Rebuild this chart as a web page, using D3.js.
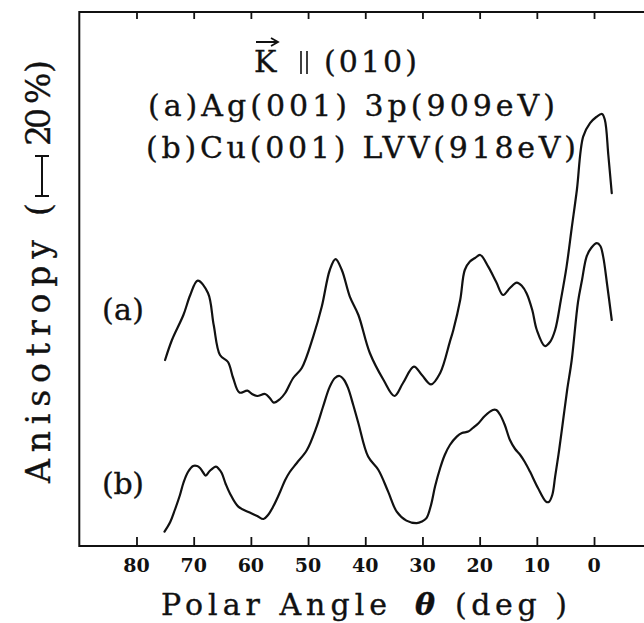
<!DOCTYPE html>
<html>
<head>
<meta charset="utf-8">
<script src="https://cdn.jsdelivr.net/npm/d3@7"></script>
<style>
  html, body { margin: 0; padding: 0; background: #fff; }
  svg { display: block; }
  text { font-family: "DejaVu Serif", "Liberation Serif", serif; fill: #111; }
</style>
</head>
<body>
<svg id="chart" width="644" height="623"></svg>
<script>
// ---- data ----
const xTicks = [80, 70, 60, 50, 40, 30, 20, 10, 0];

// (a) Ag(001) 3p (909 eV): polar angle (deg) and anisotropy (%, offset)
const thetaA = [75.0, 73.8, 71.8, 70.6, 69.3, 67.5, 66.5, 65.4, 64.0, 63.1, 62.0, 60.6, 59.8, 58.9, 57.5, 56.7, 56.0, 54.9, 54.0, 52.6, 51.1, 49.1, 47.6, 46.2, 45.2, 44.1, 42.7, 41.2, 39.2, 36.8, 34.9, 33.4, 31.5, 30.1, 28.5, 26.9, 25.2, 24.6, 23.4, 22.6, 21.7, 20.8, 19.9, 18.5, 17.1, 15.9, 14.7, 13.5, 12.6, 11.8, 10.8, 10.0, 8.6, 7.7, 6.8, 5.8, 4.8, 3.9, 3.0, 1.9, 0.7, -0.4, -1.4, -1.9, -2.5, -3.1];
const valA = [93, 103, 115.5, 125.5, 132.7, 126.5, 110.5, 95.5, 92, 84, 76.7, 77.7, 76, 75, 76, 74, 71.7, 73.5, 76.5, 84, 89, 104.7, 119.7, 138, 143.4, 138, 124.7, 115.5, 96.5, 83, 75, 81.5, 89.7, 85.5, 80.8, 86.5, 102.2, 108, 123, 138, 142.2, 144, 145.5, 139.7, 132, 125.5, 129, 131.7, 130, 126.4, 118, 108, 100, 102, 108, 123, 139.7, 159, 178, 204.7, 211.4, 214.5, 216, 213, 195.5, 176.4];

// (b) Cu(001) LVV (918 eV)
const thetaB = [75.1, 74.1, 73.3, 72.4, 71.8, 71.0, 70.1, 69.4, 68.9, 68.4, 67.9, 67.2, 66.1, 65.6, 65.1, 64.4, 63.7, 62.2, 60.2, 58.9, 57.8, 57.0, 56.1, 54.9, 54.0, 53.2, 52.0, 50.2, 48.5, 47.4, 46.2, 45.3, 44.5, 43.7, 43.0, 42.1, 41.2, 39.5, 37.7, 36.0, 34.5, 32.8, 31.0, 30.1, 29.3, 28.5, 27.8, 26.9, 26.1, 25.2, 24.0, 23.1, 22.0, 21.2, 20.2, 19.1, 17.7, 17.1, 16.4, 15.6, 14.7, 13.8, 12.9, 12.1, 11.2, 9.8, 8.4, 7.9, 7.3, 6.8, 6.1, 5.4, 4.7, 3.9, 2.8, 2.1, 1.3, 0.5, -0.5, -1.1, -1.6, -2.3, -3.1];
const valB = [7.2, 12, 18, 25.5, 31.5, 37, 40, 40, 39, 37, 35.2, 37.5, 39.7, 38.5, 36.5, 31, 26.5, 19.7, 16.7, 15, 13.5, 15.5, 19.7, 27, 33, 37, 41.4, 48, 59.7, 69.5, 79.7, 84, 85, 83, 78.9, 70.5, 61.4, 44.7, 38, 27.2, 17.2, 12.7, 11.4, 12.2, 13.9, 20.5, 29.7, 39, 45.5, 50.5, 54.7, 56.5, 57.2, 59, 61.4, 65, 68, 68, 65.5, 60.5, 53, 48.5, 45.5, 42, 37.2, 29, 22.2, 22, 25.5, 34.7, 48, 63, 78, 93, 122, 133, 144.7, 149, 151.4, 150, 144.7, 130.5, 113];

const titleLines = ["(a)Ag(001)  3p(909eV)", "(b)Cu(001)  LVV(918eV)"];
const seriesLabels = ["(a)", "(b)"];

// ---- scales ----
const svg = d3.select("#chart");
const x = d3.scaleLinear().domain([90, -9]).range([79.3, 645.5]);
const y = d3.scaleLinear().domain([0, 267]).range([546, 12]);
const ink = "#111";

const ptsA = thetaA.map((t, i) => [t, valA[i]]);
const ptsB = thetaB.map((t, i) => [t, valB[i]]);

// ---- frame ----
const x0 = x(90), x1 = 650, yTop = y(267), yBot = y(0);
svg.append("path")
  .attr("d", `M${x1},${yTop}H${x0}V${yBot}H${x1}`)
  .attr("fill", "none").attr("stroke", ink).attr("stroke-width", 2);

const bottomAxis = d3.axisTop(x).tickValues(xTicks).tickSize(9).tickFormat("");
svg.append("g").attr("transform", `translate(0,${yBot})`).call(bottomAxis)
  .call(g => g.select(".domain").remove())
  .call(g => g.selectAll("line").attr("stroke", ink).attr("stroke-width", 1.8));
const topAxis = d3.axisBottom(x).tickValues(xTicks).tickSize(7).tickFormat("");
svg.append("g").attr("transform", `translate(0,${yTop})`).call(topAxis)
  .call(g => g.select(".domain").remove())
  .call(g => g.selectAll("line").attr("stroke", ink).attr("stroke-width", 1.8));

svg.append("g").selectAll("text").data(xTicks).join("text")
  .attr("x", d => x(d)).attr("y", 572)
  .attr("text-anchor", "middle")
  .attr("font-size", 19).attr("font-weight", "bold")
  .text(d => d);

// ---- curves ----
const line = d3.line().x(d => x(d[0])).y(d => y(d[1])).curve(d3.curveCatmullRom.alpha(0.5));
[ptsA, ptsB].forEach(p => {
  svg.append("path").datum(p).attr("d", line)
    .attr("fill", "none").attr("stroke", ink).attr("stroke-width", 2.2)
    .attr("stroke-linejoin", "round").attr("stroke-linecap", "round");
});

// ---- text ----
const thick = sel => sel.attr("stroke", ink).attr("stroke-width", 0.35);
const txt = (s, xx, yy, size, len) => {
  const t = svg.append("text").attr("x", xx).attr("y", yy).attr("font-size", size).call(thick).text(s);
  if (len) t.attr("textLength", len).attr("lengthAdjust", "spacing");
  return t;
};

// x label
txt("Polar Angle", 161, 615, 30, 226);
txt("\u03b8", 415, 615, 30).attr("font-style", "italic").attr("font-weight", "bold");
txt("(deg )", 455, 615, 30, 112);

// y label pieces (rotated)
const yl = (s, yy, len) => {
  const t = svg.append("text")
    .attr("transform", `translate(50,${yy}) rotate(-90)`)
    .attr("font-size", 33).call(thick).text(s);
  if (len) t.attr("textLength", len).attr("lengthAdjust", "spacing");
  return t;
};
yl("Anisotropy (", 483, 280);
yl("20", 146, 38);
yl("%", 104, 26);
yl(")", 73, 13);
// 20% scale bar (uses y scale: 20 units)
const barLen = y(0) - y(20);
const barY0 = 196, barY1 = barY0 - barLen;
svg.append("path")
  .attr("d", `M42,${barY0}V${barY1}M35,${barY0}H49M35,${barY1}H49`)
  .attr("stroke", ink).attr("stroke-width", 2).attr("fill", "none");

// title
txt("K", 254, 72, 30);
svg.append("path").attr("d", "M256,42H277M271,38L278,42L271,46")
  .attr("stroke", ink).attr("stroke-width", 1.8).attr("fill", "none");
svg.append("path").attr("d", "M301,51V74M307,51V74")
  .attr("stroke", ink).attr("stroke-width", 1.6).attr("fill", "none");
txt("(010)", 324, 72, 30, 93);
txt(titleLines[0], 148, 116, 30, 407);
txt(titleLines[1], 146, 158, 30, 430);

// series labels
txt(seriesLabels[0], 102, 320, 30, 42);
txt(seriesLabels[1], 102, 494, 30, 42);
</script>
</body>
</html>
